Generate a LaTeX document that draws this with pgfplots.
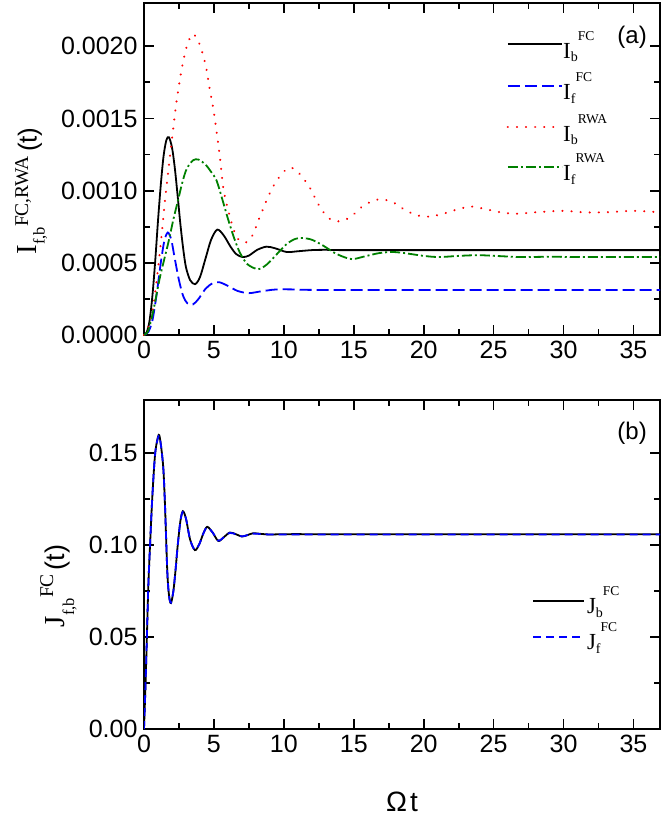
\documentclass[border=0pt]{standalone}
\usepackage{fontspec}
\setmainfont{Liberation Sans}
\newfontfamily\tnr{Liberation Serif}
\usepackage{pgfplots}
\pgfplotsset{compat=1.18}
\definecolor{ogreen}{RGB}{0,128,0}
\newcommand{\leg}[3]{{\tnr\fontsize{23}{23}\selectfont #1\raisebox{-3.5pt}{\fontsize{14}{14}\selectfont #2}\raisebox{18pt}{\fontsize{13.5}{13.5}\selectfont #3}}}
\tikzset{
  sIbFC/.style={black, line width=1.8pt, solid},
  sIfFC/.style={blue, line width=1.8pt, dash pattern=on 12pt off 5pt},
  sIbRWA/.style={red, line width=2.2pt, line cap=round, dash pattern=on 0.1pt off 9pt},
  sIfRWA/.style={ogreen, line width=1.8pt, dash pattern=on 10pt off 3pt on 2pt off 3pt},
  sJb/.style={black, line width=1.8pt, solid},
  sJf/.style={blue, line width=1.8pt, dash pattern=on 8pt off 5pt},
}
\pgfplotsset{
  myaxis/.style={
    scale only axis, width=516pt,
    xmin=0, xmax=36.9,
    xtick={0,5,...,35}, minor x tick num=1, minor y tick num=1,
    tick align=inside, tick pos=both,
    major tick length=10pt, minor tick length=6pt,
    axis line style={line width=1.8pt},
    every tick/.style={line width=1.8pt, black},
    /pgf/number format/assume math mode=true,
    ticklabel style={font=\fontsize{25}{25}\selectfont},
    yticklabel style={xshift=-3pt},
    xticklabel style={yshift=-3pt},
    legend cell align=left,
  },
}
\newcommand{\limg}[2]{\addlegendimage{legend image code/.code={\draw[#1] (0pt,0pt) -- (#2,0pt);}}}
\begin{document}
\begin{tikzpicture}
\useasboundingbox (0,0) rectangle (661pt,819pt);
% ---------------- top panel -----------------
\begin{axis}[myaxis, at={(144pt,484pt)}, anchor=south west, height=332pt,
  ymin=0, ymax=0.0023, scaled y ticks=false, clip=false,
  ytick={0,0.0005,0.001,0.0015,0.002},
  yticklabels={0.0000,0.0005,0.0010,0.0015,0.0020},
  ylabel={{\tnr\fontsize{29}{29}\selectfont I\raisebox{-8pt}{\fontsize{16.5}{16.5}\selectfont f,b}\raisebox{8.5pt}{\fontsize{19.5}{19.5}\selectfont FC,RWA}}\hspace{4pt}{\fontsize{26}{26}\selectfont (t)}},
  ylabel style={at={(axis description cs:-0.208,0.434)}, anchor=base, rotate=0},
]
\addplot[sIbFC, smooth, tension=0.5] coordinates {
(0,0) (0.2,0.00002) (0.4,0.00010) (0.6,0.00027) (0.8,0.00051) (1.0,0.00079) (1.2,0.00104) (1.4,0.00124) (1.6,0.00135) (1.78,0.00137) (2.0,0.00130) (2.2,0.00116) (2.4,0.00097) (2.6,0.00077) (2.8,0.00060) (3.0,0.00047) (3.3,0.00038) (3.65,0.000352) (4.0,0.00040) (4.4,0.00053) (4.8,0.00066) (5.24,0.00073) (5.7,0.00069) (6.2,0.00061) (6.6,0.00056) (7.05,0.00054) (7.5,0.00055) (8.1,0.00059) (8.76,0.000612) (9.4,0.00060) (10.2,0.000575) (11.0,0.00058) (12.0,0.000588) (13.0,0.00059) (14,0.000588) (16,0.000588) (19,0.000588) (22,0.000588) (25,0.000588) (28,0.000588) (31,0.000588) (34,0.000588) (36.9,0.000588)};
\addplot[sIfFC, smooth, tension=0.5] coordinates {
(0,0) (0.3,0.00002) (0.6,0.00010) (0.9,0.00028) (1.2,0.00050) (1.45,0.00065) (1.7,0.00071) (1.95,0.00066) (2.2,0.00053) (2.5,0.00038) (2.8,0.00027) (3.1,0.00022) (3.5,0.000212) (3.9,0.00025) (4.4,0.00032) (4.9,0.000358) (5.4,0.000365) (6.0,0.00034) (6.7,0.000305) (7.5,0.00029) (8.4,0.000303) (9.4,0.000315) (10.5,0.000316) (11.5,0.000313) (13,0.000312) (16,0.000312) (19,0.000312) (22,0.000312) (25,0.000312) (28,0.000312) (31,0.000312) (34,0.000312) (36.9,0.000312)};
\addplot[sIbRWA, smooth, tension=0.5] coordinates {
(0,0) (0.3,0.00005) (0.67,0.00020) (1.14,0.00058) (1.5,0.00093) (1.86,0.00124) (2.09,0.00143) (2.33,0.00162) (2.69,0.00184) (2.98,0.00197) (3.2,0.00204) (3.48,0.002085) (3.75,0.00206) (4.07,0.00199) (4.43,0.00186) (4.67,0.00172) (4.95,0.00157) (5.16,0.00143) (5.43,0.00123) (5.7,0.00100) (6.14,0.00082) (6.62,0.00068) (7.2,0.00064) (7.7,0.00068) (8.29,0.00082) (8.8,0.00094) (9.24,0.00103) (9.8,0.00111) (10.4,0.00116) (11.0,0.00113) (11.8,0.00103) (12.5,0.00090) (13.2,0.00081) (14.0,0.000787) (14.8,0.00082) (15.6,0.00089) (16.4,0.00093) (17.0,0.00094) (17.8,0.00092) (18.6,0.00087) (19.5,0.00083) (20.4,0.00082) (21.4,0.00084) (22.4,0.00087) (23.4,0.00089) (24.5,0.00087) (25.5,0.00085) (26.6,0.00084) (28,0.00085) (29.9,0.00086) (31.5,0.00085) (33,0.00085) (35,0.00086) (36.9,0.00085)};
\addplot[sIfRWA, smooth, tension=0.5] coordinates {
(0,0) (0.3,0.00003) (0.67,0.00017) (1.14,0.00040) (1.74,0.00064) (2.1,0.00080) (2.45,0.00094) (2.75,0.00106) (3.05,0.00115) (3.5,0.00121) (3.9,0.001215) (4.4,0.00118) (4.8,0.00113) (5.19,0.00107) (5.6,0.00094) (6.02,0.00080) (6.45,0.00067) (6.86,0.00057) (7.4,0.00049) (8.17,0.000456) (8.8,0.00049) (9.5,0.00056) (10.2,0.00063) (10.8,0.000665) (11.3,0.000672) (12.0,0.00066) (12.8,0.00062) (13.6,0.00057) (14.3,0.00054) (14.9,0.000525) (15.8,0.000545) (16.8,0.000567) (17.8,0.000575) (18.8,0.000565) (20,0.000548) (21.1,0.00054) (22.5,0.000548) (23.9,0.000553) (25.3,0.000547) (27,0.00054) (29,0.000542) (31,0.00054) (33,0.00054) (35,0.00054) (36.9,0.00054)};
% legend key of panel (a)
\draw[sIbFC]  (axis description cs:0.705,0.8765) -- ++(54pt,0pt);
\draw[sIfFC]  (axis description cs:0.705,0.7500) -- ++(54pt,0pt);
\draw[sIbRWA] (axis description cs:0.705,0.6265) -- ++(54pt,0pt);
\draw[sIfRWA] (axis description cs:0.705,0.5060) -- ++(54pt,0pt);
\node[anchor=base west, inner sep=0pt] at (axis description cs:0.812,0.834) {\leg{I}{b}{FC}};
\node[anchor=base west, inner sep=0pt] at (axis description cs:0.812,0.708) {\leg{I}{f}{FC}};
\node[anchor=base west, inner sep=0pt] at (axis description cs:0.812,0.584) {\leg{I}{b}{RWA}};
\node[anchor=base west, inner sep=0pt] at (axis description cs:0.812,0.464) {\leg{I}{f}{RWA}};
\node[font=\fontsize{24}{24}\selectfont, anchor=base] at (axis description cs:0.946,0.878) {(a)};
\end{axis}
% ---------------- bottom panel -----------------
\begin{axis}[myaxis, at={(144pt,90pt)}, anchor=south west, height=329pt,
  ymin=0, ymax=0.179,
  ytick={0,0.05,0.1,0.15},
  yticklabels={0.00,0.05,0.10,0.15},
  xlabel={\fontsize{28}{28}\selectfont Ω\hspace{3pt}t},
  xlabel style={at={(axis description cs:0.5,-0.252)}, anchor=base},
  ylabel={{\tnr\fontsize{29}{29}\selectfont J\raisebox{-10pt}{\fontsize{16.5}{16.5}\selectfont f,b}\raisebox{11pt}{\fontsize{19.5}{19.5}\selectfont FC}}\hspace{4pt}{\fontsize{27}{27}\selectfont (t)}},
  ylabel style={at={(axis description cs:-0.155,0.435)}, anchor=base, rotate=0},
  legend style={draw=none, fill=none, at={(axis description cs:0.752,0.43)}, anchor=north west,
    inner sep=0pt, row sep=10pt, column sep=2pt, nodes={inner sep=0pt, text height=26pt, text depth=0pt}},
]
\limg{black, line width=1.8pt, solid}{51pt}
\addlegendentry{\leg{J}{b}{FC}}
\limg{blue, line width=1.8pt, dash pattern=on 8pt off 5pt}{51pt}
\addlegendentry{\leg{J}{f}{FC}}
\addplot[sJb, smooth, tension=0.5, forget plot] coordinates {
(0,0) (0.1,0.022) (0.2,0.048) (0.31,0.078) (0.45,0.103) (0.6,0.127) (0.8,0.150) (1.05,0.160) (1.2,0.155) (1.38,0.142) (1.5,0.122) (1.67,0.085) (1.8,0.072) (1.93,0.0685) (2.1,0.075) (2.25,0.086) (2.4,0.099) (2.6,0.113) (2.78,0.1185) (3.0,0.1145) (3.3,0.103) (3.64,0.0973) (3.95,0.1005) (4.25,0.1065) (4.52,0.110) (4.9,0.107) (5.31,0.1023) (5.7,0.1043) (6.14,0.1069) (6.6,0.1059) (7.0,0.1047) (7.4,0.1055) (7.8,0.1065) (8.3,0.1062) (9.0,0.1058) (10,0.106) (13,0.106) (16,0.106) (19,0.106) (22,0.106) (25,0.106) (28,0.106) (31,0.106) (34,0.106) (37,0.106)};
\addplot[sJf, smooth, tension=0.5, forget plot] coordinates {
(0,0) (0.1,0.022) (0.2,0.048) (0.31,0.078) (0.45,0.103) (0.6,0.127) (0.8,0.150) (1.05,0.1595) (1.2,0.155) (1.38,0.142) (1.5,0.122) (1.67,0.085) (1.8,0.072) (1.93,0.0688) (2.1,0.075) (2.25,0.086) (2.4,0.099) (2.6,0.113) (2.78,0.1182) (3.0,0.1145) (3.3,0.103) (3.64,0.0975) (3.95,0.1005) (4.25,0.1065) (4.52,0.1098) (4.9,0.107) (5.31,0.1025) (5.7,0.1043) (6.14,0.1067) (6.6,0.1058) (7.0,0.1048) (7.4,0.1055) (7.8,0.1063) (8.3,0.1061) (9.0,0.1058) (10,0.1058) (13,0.1058) (16,0.1058) (19,0.1058) (22,0.1058) (25,0.1058) (28,0.1058) (31,0.1058) (34,0.1058) (37,0.1058)};
\node[font=\fontsize{24}{24}\selectfont, anchor=base] at (axis description cs:0.946,0.881) {(b)};
\end{axis}
\end{tikzpicture}
\end{document}
